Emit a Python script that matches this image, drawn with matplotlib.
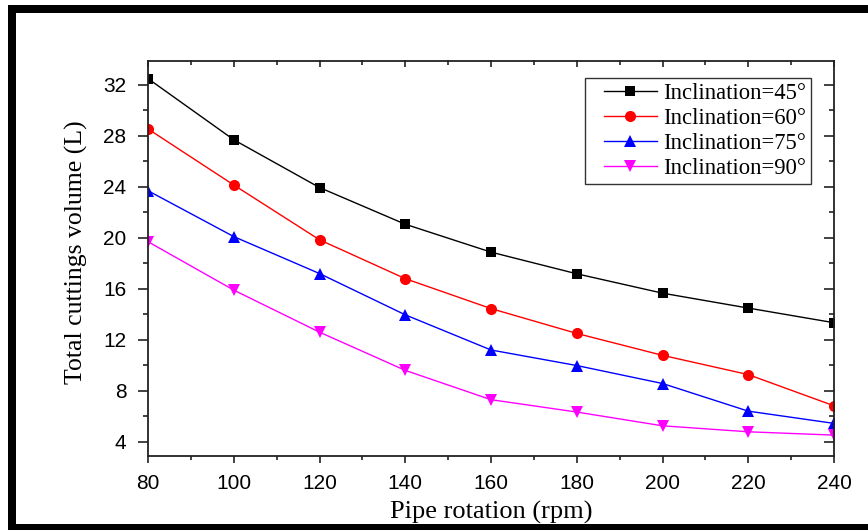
import matplotlib
matplotlib.use("Agg")
import matplotlib.pyplot as plt
from matplotlib.patches import Rectangle
from matplotlib.ticker import MultipleLocator
from matplotlib.legend_handler import HandlerLine2D

# Pipe rotation speed (rpm) and total cuttings volume (L) per inclination
rpm = [80, 100, 120, 140, 160, 180, 200, 220, 240]
inc45 = [32.5, 27.7, 23.95, 21.07, 18.88, 17.18, 15.66, 14.49, 13.34]
inc60 = [28.55, 24.15, 19.85, 16.8, 14.45, 12.5, 10.78, 9.27, 6.82]
inc75 = [23.7, 20.1, 17.2, 13.96, 11.2, 9.98, 8.57, 6.4, 5.44]
inc90 = [19.7, 15.9, 12.6, 9.6, 7.3, 6.33, 5.25, 4.78, 4.52]

series = [
    ("Inclination=45°", inc45, "black", "s", 7.5),
    ("Inclination=60°", inc60, "#ff0000", "o", 8),
    ("Inclination=75°", inc75, "#0000ff", "^", 8),
    ("Inclination=90°", inc90, "#ff00ff", "v", 8),
]

plt.rcParams["font.family"] = ["Liberation Sans", "DejaVu Sans"]
serif = ["Liberation Serif", "DejaVu Serif"]

W, H = 868, 530
fig = plt.figure(figsize=(W / 100, H / 100), dpi=100)
ax = fig.add_axes([148 / W, 1 - 456 / H, (834 - 148) / W, (456 - 60.5) / H])

lines = []
for label, vals, color, marker, ms in series:
    ln, = ax.plot(rpm, vals, color=color, lw=1.0, marker=marker, markersize=ms,
                  markeredgewidth=0, label=label)
    lines.append(ln)

ax.set_xlim(80, 240)
ax.set_ylim(2.88, 33.92)
ax.xaxis.set_major_locator(MultipleLocator(20))
ax.xaxis.set_minor_locator(MultipleLocator(10))
ax.yaxis.set_major_locator(MultipleLocator(4))
ax.yaxis.set_minor_locator(MultipleLocator(2))

for sp in ax.spines.values():
    sp.set_linewidth(1.3)
    sp.set_color("#222222")

ax.tick_params(axis="x", which="major", direction="out", length=5, width=1.2,
               labelsize=15, pad=8, color="#222222")
ax.tick_params(axis="x", which="minor", direction="out", length=3, width=1.2,
               color="#222222")
ax.tick_params(axis="y", which="major", direction="out", length=7.5, width=1.2,
               labelsize=15, pad=8, color="#222222")
ax.tick_params(axis="y", which="minor", direction="out", length=3.8, width=1.2,
               color="#222222")

# Mirrored ticks on the top and right edges
top = ax.secondary_xaxis("top")
top.xaxis.set_major_locator(MultipleLocator(20))
top.xaxis.set_minor_locator(MultipleLocator(10))
top.tick_params(which="major", direction="in", length=5, width=1.2, labeltop=False,
                color="#222222")
top.tick_params(which="minor", direction="in", length=3.5, width=1.2, color="#222222")
top.spines["top"].set_visible(False)

right = ax.secondary_yaxis("right")
right.yaxis.set_major_locator(MultipleLocator(4))
right.yaxis.set_minor_locator(MultipleLocator(2))
right.tick_params(which="major", direction="in", length=7.5, width=1.2,
                  labelright=False, color="#222222")
right.tick_params(which="minor", direction="in", length=3.8, width=1.2, color="#222222")
right.spines["right"].set_visible(False)

ax.set_xlabel("Pipe rotation (rpm)", family=serif, fontsize=19, labelpad=6)
ax.set_ylabel("Total cuttings volume (L)", family=serif, fontsize=18.5, labelpad=10)
ax.yaxis.set_label_coords(-0.088, 0.515)

leg = ax.legend(handles=lines, loc="upper left", bbox_to_anchor=(0.637, 0.955),
                borderaxespad=0, prop={"family": serif, "size": 16.3},
                frameon=True, fancybox=False, edgecolor="black",
                handlelength=2.95, handletextpad=0.27, labelspacing=0.17,
                borderpad=0.22,
                handler_map={ln: HandlerLine2D(xpad=0.62) for ln in lines})
leg.get_frame().set_linewidth(1.0)

# Heavy black frame around the figure
def bar(x0, y0, x1, y1):
    fig.add_artist(Rectangle((x0 / W, 1 - y1 / H), (x1 - x0) / W, (y1 - y0) / H,
                             transform=fig.transFigure, facecolor="black",
                             edgecolor="none"))

bar(8, 5, 16, 530)
bar(8, 5, 868, 13)
bar(8, 524, 868, 530)

fig.savefig("out.png", dpi=100)
